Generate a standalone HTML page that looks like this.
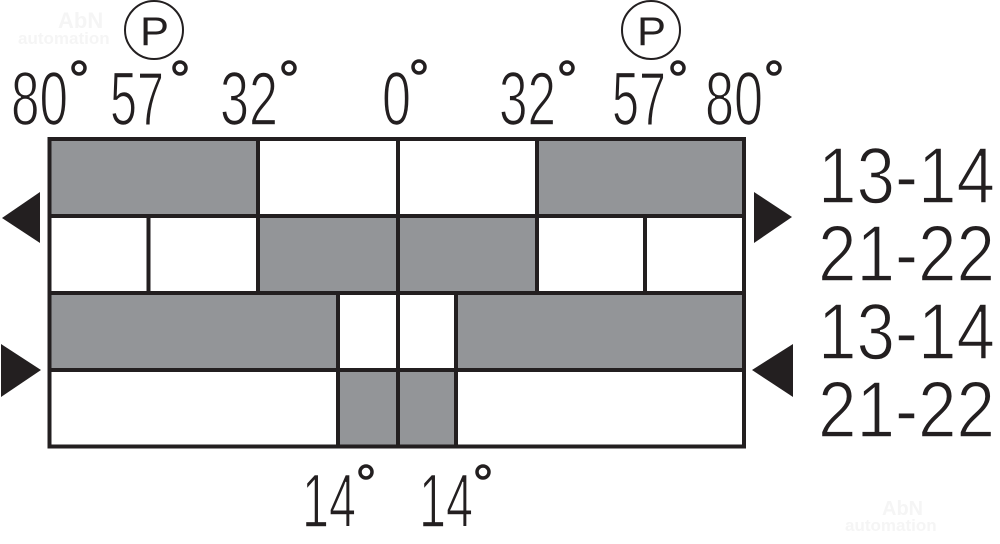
<!DOCTYPE html>
<html><head><meta charset="utf-8"><style>
html,body{margin:0;padding:0;background:#fff;}
svg{display:block;}
text{font-family:"Liberation Sans",sans-serif;fill:#231f20;}
.thin{stroke:#fff;stroke-width:1.6;}
</style></head><body>
<svg width="1000" height="544" viewBox="0 0 1000 544" xmlns="http://www.w3.org/2000/svg">
<text x="58" y="28" font-size="22" font-weight="bold" style="fill:#f5f5f5">AbN</text>
<text x="18" y="44" font-size="17" font-weight="bold" style="fill:#f5f5f5">automation</text>
<text x="882" y="515" font-size="20" font-weight="bold" style="fill:#f5f5f5">AbN</text>
<text x="845" y="531" font-size="17" font-weight="bold" style="fill:#f5f5f5">automation</text>
<g fill="#939598">
<rect x="49" y="139" width="209" height="77"/>
<rect x="537" y="139" width="207" height="77"/>
<rect x="258" y="216" width="279" height="77"/>
<rect x="49" y="293" width="289" height="77"/>
<rect x="456" y="293" width="288" height="77"/>
<rect x="338" y="370" width="118" height="76"/>
</g>
<g stroke="#231f20" stroke-width="4" fill="none">
<rect x="49.5" y="139" width="694.5" height="307.5"/>
<line x1="49" y1="216" x2="744" y2="216"/>
<line x1="49" y1="293" x2="744" y2="293"/>
<line x1="49" y1="370" x2="744" y2="370"/>
<line x1="398" y1="139" x2="398" y2="446"/>
<line x1="258" y1="139" x2="258" y2="293"/>
<line x1="537" y1="139" x2="537" y2="293"/>
<line x1="148.5" y1="216" x2="148.5" y2="293"/>
<line x1="645" y1="216" x2="645" y2="293"/>
<line x1="338" y1="293" x2="338" y2="446"/>
<line x1="456" y1="293" x2="456" y2="446"/>
</g>
<g fill="#231f20">
<polygon points="2,218 40,192 40,243"/>
<polygon points="792,217 754,192 754,243"/>
<polygon points="41,370 1,344 1,397"/>
<polygon points="752,370 793,344 793,397"/>
</g>
<g stroke="#231f20" stroke-width="2" fill="none">
<circle cx="154" cy="30" r="29"/>
<circle cx="651" cy="30" r="29"/>
</g>
<text x="140" y="45" font-size="40" textLength="29" lengthAdjust="spacingAndGlyphs">P</text>
<text x="637" y="45" font-size="40" textLength="29" lengthAdjust="spacingAndGlyphs">P</text>
<g font-size="76" class="thin">
<text class="thin" x="11" y="125" textLength="57" lengthAdjust="spacingAndGlyphs">80</text>
<text class="thin" x="110" y="125" textLength="54" lengthAdjust="spacingAndGlyphs">57</text>
<text class="thin" x="220" y="125" textLength="58" lengthAdjust="spacingAndGlyphs">32</text>
<text class="thin" x="382" y="125" textLength="29" lengthAdjust="spacingAndGlyphs">0</text>
<text class="thin" x="499" y="125" textLength="57" lengthAdjust="spacingAndGlyphs">32</text>
<text class="thin" x="612" y="125" textLength="54" lengthAdjust="spacingAndGlyphs">57</text>
<text class="thin" x="705" y="125" textLength="58" lengthAdjust="spacingAndGlyphs">80</text>
<text class="thin" x="302" y="527" textLength="54" lengthAdjust="spacingAndGlyphs">14</text>
<text class="thin" x="419" y="527" textLength="54" lengthAdjust="spacingAndGlyphs">14</text>
</g>
<g stroke="#231f20" stroke-width="3.5" fill="none">
<circle cx="79" cy="68" r="6"/>
<circle cx="180" cy="68" r="6"/>
<circle cx="289" cy="68" r="6"/>
<circle cx="419" cy="67" r="6"/>
<circle cx="567" cy="68" r="6"/>
<circle cx="678" cy="68" r="6"/>
<circle cx="774" cy="68" r="6"/>
<circle cx="366" cy="472" r="6"/>
<circle cx="483" cy="472" r="6"/>
</g>
<g font-size="80">
<text class="thin" x="818" y="203" textLength="177" lengthAdjust="spacingAndGlyphs">13-14</text>
<text class="thin" x="818" y="281" textLength="177" lengthAdjust="spacingAndGlyphs">21-22</text>
<text class="thin" x="818" y="359" textLength="177" lengthAdjust="spacingAndGlyphs">13-14</text>
<text class="thin" x="818" y="437" textLength="177" lengthAdjust="spacingAndGlyphs">21-22</text>
</g>
</svg>
</body></html>
